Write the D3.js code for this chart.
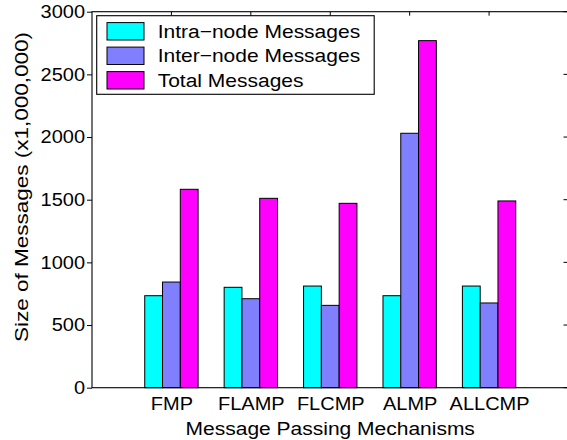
<!DOCTYPE html>
<html>
<head>
<meta charset="utf-8">
<script src="https://cdn.jsdelivr.net/npm/d3@7"></script>
<style>
  body { margin: 0; background: #fff; }
  text { font-family: "Liberation Sans", Arial, sans-serif; fill: #000; }
</style>
</head>
<body>
<div id="chart"></div>
<script>
// data
const categories = ["FMP", "FLAMP", "FLCMP", "ALMP", "ALLCMP"];
const intraNode = [734, 801, 811, 734, 811];
const interNode = [843, 710, 657, 2030, 676];
const totalMsgs = [1583, 1511, 1471, 2769, 1490];
const seriesNames = ["Intra\u2212node Messages", "Inter\u2212node Messages", "Total Messages"];
const seriesColors = ["#00ffff", "#8080ff", "#ff00ff"];
const yTicks = [0, 500, 1000, 1500, 2000, 2500, 3000];

const W = 567, H = 440;
const plotLeft = 92, plotRight = 568.5, plotTop = 11.7, plotBottom = 387.7;

const svg = d3.select("#chart")
  .append("svg")
  .attr("width", W)
  .attr("height", H);

const x = d3.scaleLinear().domain([0, categories.length + 1]).range([plotLeft, plotRight]);
const y = d3.scaleLinear().domain([0, 3000]).range([plotBottom, plotTop]);

const barW = 0.224; // in category units
const series = [intraNode, interNode, totalMsgs];

// squash glyphs vertically around their own anchor (the reference font is wide)
function squash(sel, k) {
  sel.each(function () {
    const t = d3.select(this);
    const yy = +t.attr("y") || 0;
    t.attr("transform", `translate(0,${yy}) scale(1,${k}) translate(0,${-yy})`);
  });
}

// bars
series.forEach((vals, s) => {
  svg.append("g")
    .selectAll("rect")
    .data(vals)
    .enter()
    .append("rect")
    .attr("x", (d, i) => x(i + 1 + (s - 1.5) * barW))
    .attr("y", (d) => y(d))
    .attr("width", x(barW) - x(0))
    .attr("height", (d) => y(0) - y(d))
    .style("fill", seriesColors[s])
    .style("stroke", "#000")
    .style("stroke-width", 1);
});

// axes box
svg.append("rect")
  .attr("x", plotLeft)
  .attr("y", plotTop)
  .attr("width", plotRight - plotLeft)
  .attr("height", plotBottom - plotTop)
  .style("fill", "none")
  .style("stroke", "#000")
  .style("stroke-width", 1.1);

// left axis, ticks outward
const yAxis = d3.axisLeft(y)
  .tickValues(yTicks)
  .tickSize(5)
  .tickPadding(2)
  .tickFormat(d3.format("d"));

const gy = svg.append("g")
  .attr("transform", `translate(${plotLeft},0)`)
  .call(yAxis);
gy.select(".domain").remove();
gy.attr("font-family", null).attr("font-size", null);
gy.selectAll("text").style("font-size", "20px").call(squash, 0.91);

// right axis ticks, inward
svg.append("g")
  .selectAll("line")
  .data(yTicks)
  .enter()
  .append("line")
  .attr("x1", plotRight)
  .attr("x2", plotRight - 5)
  .attr("y1", (d) => y(d))
  .attr("y2", (d) => y(d))
  .style("stroke", "#000");

// bottom axis
const xAxis = d3.axisBottom(x)
  .tickValues(d3.range(1, categories.length + 1))
  .tickSize(0)
  .tickPadding(9)
  .tickFormat((d) => categories[d - 1]);

const gx = svg.append("g")
  .attr("transform", `translate(0,${plotBottom})`)
  .call(xAxis);
gx.select(".domain").remove();
gx.attr("font-family", null).attr("font-size", null);
gx.selectAll("text").style("font-size", "20px").call(squash, 0.93);

// top ticks, inward
svg.append("g")
  .selectAll("line")
  .data(d3.range(1, categories.length + 1))
  .enter()
  .append("line")
  .attr("x1", (d) => x(d))
  .attr("x2", (d) => x(d))
  .attr("y1", plotTop)
  .attr("y2", plotTop + 4)
  .style("stroke", "#000");

// axis labels
svg.append("text")
  .attr("x", (plotLeft + plotRight) / 2)
  .attr("y", 435)
  .attr("text-anchor", "middle")
  .style("font-size", "21px")
  .text("Message Passing Mechanisms")
  .call(squash, 0.88);

svg.append("g")
  .attr("transform", "translate(28,187) rotate(-90) scale(1,0.8)")
  .append("text")
  .attr("text-anchor", "middle")
  .style("font-size", "22.5px")
  .text("Size of Messages (x1,000,000)");

// legend
const legend = svg.append("g");
legend.append("rect")
  .attr("x", 96.7)
  .attr("y", 15.7)
  .attr("width", 277.5)
  .attr("height", 78.6)
  .style("fill", "#fff")
  .style("stroke", "#000")
  .style("stroke-width", 1.1);

seriesNames.forEach((name, i) => {
  const cy = 31.3 + i * 24.5;
  legend.append("rect")
    .attr("x", 107)
    .attr("y", cy - 8.7)
    .attr("width", 37)
    .attr("height", 17.4)
    .style("fill", seriesColors[i])
    .style("stroke", "#000")
    .style("stroke-width", 1);
  legend.append("text")
    .attr("x", 157.7)
    .attr("y", cy + 6.4)
    .style("font-size", "21px")
    .text(name)
    .call(squash, 0.87);
});
</script>
</body>
</html>
